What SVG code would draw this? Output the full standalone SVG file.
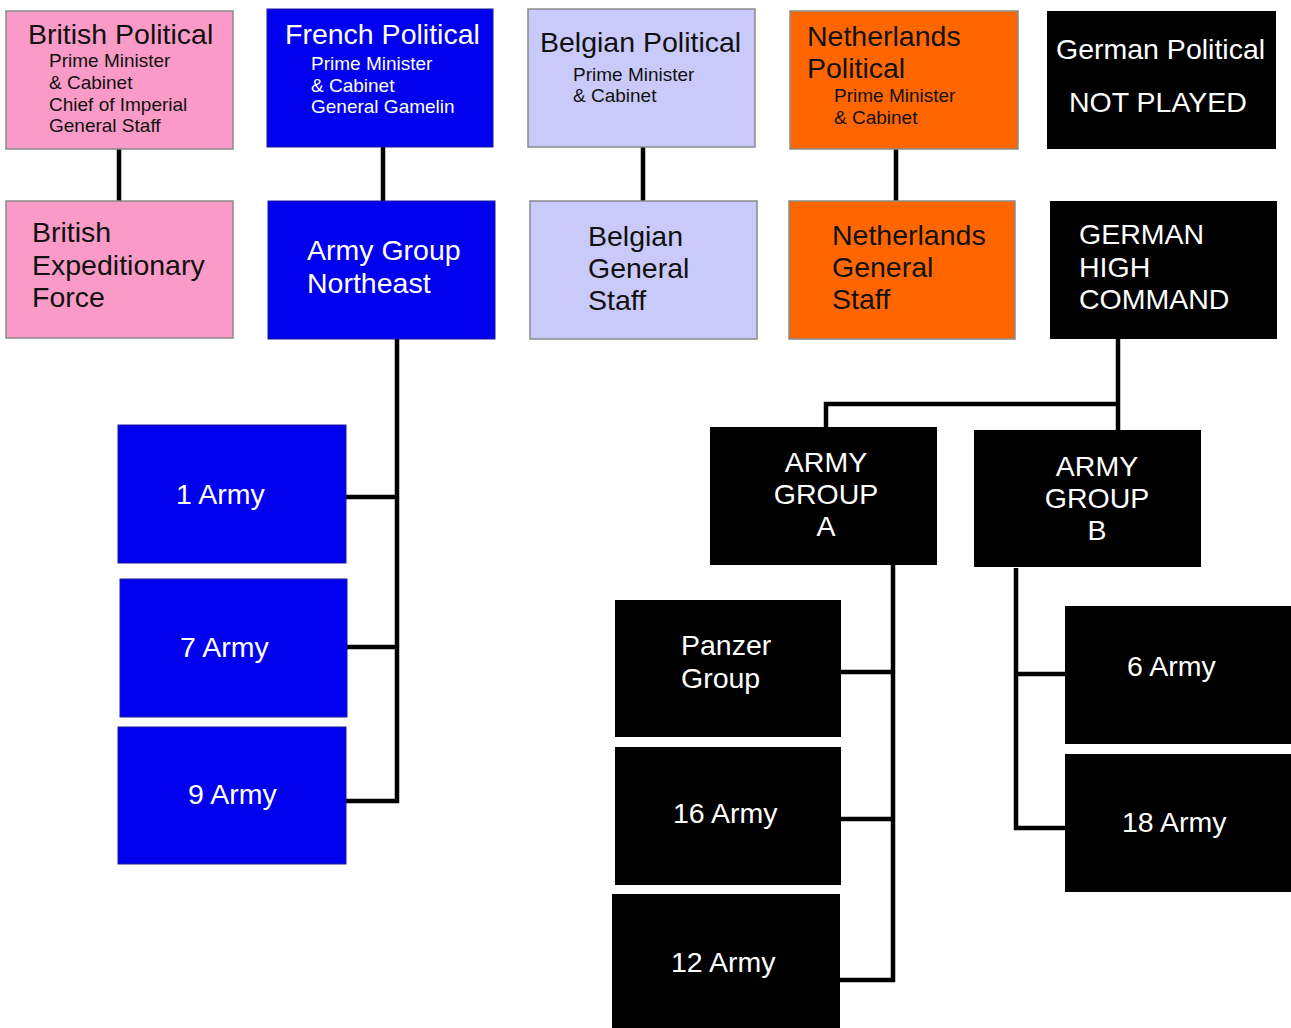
<svg xmlns="http://www.w3.org/2000/svg" width="1291" height="1028" viewBox="0 0 1291 1028">
<style>
text{font-family:"Liberation Sans",Arial,sans-serif}
.t{font-size:28.5px}
.s{font-size:19px}
.dk{fill:#111}
.wh{fill:#fff}
.c{text-anchor:middle}
.pink{fill:#f99bc6;stroke:#8a8a8a;stroke-width:1.5}
.blue{fill:#0000ee;stroke:#1a1aa0;stroke-width:1}
.lav{fill:#c9c9fa;stroke:#8a8a8a;stroke-width:1.5}
.org{fill:#ff6600;stroke:#8a8a8a;stroke-width:1.5}
.blk{fill:#000}
.conn{fill:none;stroke:#000;stroke-width:4.5}
</style>
<rect width="1291" height="1028" fill="#fff"/>
<g id="connectors" class="conn">
<line x1="119" y1="149" x2="119" y2="201"/>
<line x1="383" y1="147" x2="383" y2="201"/>
<line x1="643" y1="147" x2="643" y2="201"/>
<line x1="896" y1="149" x2="896" y2="201"/>
<polyline points="397,339 397,801 346,801"/>
<line x1="346" y1="497" x2="397" y2="497"/>
<line x1="347" y1="647" x2="397" y2="647"/>
<polyline points="1118,339 1118,430"/>
<polyline points="826,427 826,404 1118,404"/>
<polyline points="893,565 893,980 840,980"/>
<line x1="841" y1="672" x2="893" y2="672"/>
<line x1="841" y1="819" x2="893" y2="819"/>
<polyline points="1016,568 1016,828 1065,828"/>
<line x1="1016" y1="674" x2="1065" y2="674"/>
</g>
<g id="british-political">
<rect class="pink" x="6" y="11" width="227" height="138"/>
<text class="t dk" x="28" y="44">British Political</text>
<text class="s dk" x="49" y="67">Prime Minister</text>
<text class="s dk" x="49" y="89">&amp; Cabinet</text>
<text class="s dk" x="49" y="111">Chief of Imperial</text>
<text class="s dk" x="49" y="132">General Staff</text>
</g>
<g id="french-political">
<rect class="blue" x="267" y="9" width="226" height="138"/>
<text class="t wh" x="285" y="44">French Political</text>
<text class="s wh" x="311" y="70">Prime Minister</text>
<text class="s wh" x="311" y="92">&amp; Cabinet</text>
<text class="s wh" x="311" y="113">General Gamelin</text>
</g>
<g id="belgian-political">
<rect class="lav" x="528" y="9" width="227" height="138"/>
<text class="t dk" x="540" y="52">Belgian Political</text>
<text class="s dk" x="573" y="81">Prime Minister</text>
<text class="s dk" x="573" y="102">&amp; Cabinet</text>
</g>
<g id="netherlands-political">
<rect class="org" x="790" y="11" width="228" height="138"/>
<text class="t dk" x="807" y="46">Netherlands</text>
<text class="t dk" x="807" y="78">Political</text>
<text class="s dk" x="834" y="102">Prime Minister</text>
<text class="s dk" x="834" y="124">&amp; Cabinet</text>
</g>
<g id="german-political">
<rect class="blk" x="1047" y="11" width="229" height="138"/>
<text class="t wh" x="1056" y="59">German Political</text>
<text class="t wh" x="1069" y="112">NOT PLAYED</text>
</g>
<g id="bef">
<rect class="pink" x="6" y="201" width="227" height="137"/>
<text class="t dk" x="32" y="242">British</text>
<text class="t dk" x="32" y="275">Expeditionary</text>
<text class="t dk" x="32" y="307">Force</text>
</g>
<g id="army-group-northeast">
<rect class="blue" x="268" y="201" width="227" height="138"/>
<text class="t wh" x="307" y="260">Army Group</text>
<text class="t wh" x="307" y="293">Northeast</text>
</g>
<g id="belgian-general-staff">
<rect class="lav" x="530" y="201" width="227" height="138"/>
<text class="t dk" x="588" y="246">Belgian</text>
<text class="t dk" x="588" y="278">General</text>
<text class="t dk" x="588" y="310">Staff</text>
</g>
<g id="netherlands-general-staff">
<rect class="org" x="789" y="201" width="226" height="138"/>
<text class="t dk" x="832" y="245">Netherlands</text>
<text class="t dk" x="832" y="277">General</text>
<text class="t dk" x="832" y="309">Staff</text>
</g>
<g id="german-high-command">
<rect class="blk" x="1050" y="201" width="227" height="138"/>
<text class="t wh" x="1079" y="244">GERMAN</text>
<text class="t wh" x="1079" y="277">HIGH</text>
<text class="t wh" x="1079" y="309">COMMAND</text>
</g>
<g id="army1">
<rect class="blue" x="118" y="425" width="228" height="138"/>
<text class="t wh" x="176" y="504">1 Army</text>
</g>
<g id="army7">
<rect class="blue" x="120" y="579" width="227" height="138"/>
<text class="t wh" x="180" y="657">7 Army</text>
</g>
<g id="army9">
<rect class="blue" x="118" y="727" width="228" height="137"/>
<text class="t wh" x="188" y="804">9 Army</text>
</g>
<g id="army-group-a">
<rect class="blk" x="710" y="427" width="227" height="138"/>
<text class="t wh c" x="826" y="472">ARMY</text>
<text class="t wh c" x="826" y="504">GROUP</text>
<text class="t wh c" x="826" y="536">A</text>
</g>
<g id="army-group-b">
<rect class="blk" x="974" y="430" width="227" height="137"/>
<text class="t wh c" x="1097" y="476">ARMY</text>
<text class="t wh c" x="1097" y="508">GROUP</text>
<text class="t wh c" x="1097" y="540">B</text>
</g>
<g id="panzer-group">
<rect class="blk" x="615" y="600" width="226" height="137"/>
<text class="t wh" x="681" y="655">Panzer</text>
<text class="t wh" x="681" y="688">Group</text>
</g>
<g id="army16">
<rect class="blk" x="615" y="747" width="226" height="138"/>
<text class="t wh" x="673" y="823">16 Army</text>
</g>
<g id="army12">
<rect class="blk" x="612" y="894" width="228" height="140"/>
<text class="t wh" x="671" y="972">12 Army</text>
</g>
<g id="army6">
<rect class="blk" x="1065" y="606" width="230" height="138"/>
<text class="t wh" x="1127" y="676">6 Army</text>
</g>
<g id="army18">
<rect class="blk" x="1065" y="754" width="230" height="138"/>
<text class="t wh" x="1122" y="832">18 Army</text>
</g>
</svg>
